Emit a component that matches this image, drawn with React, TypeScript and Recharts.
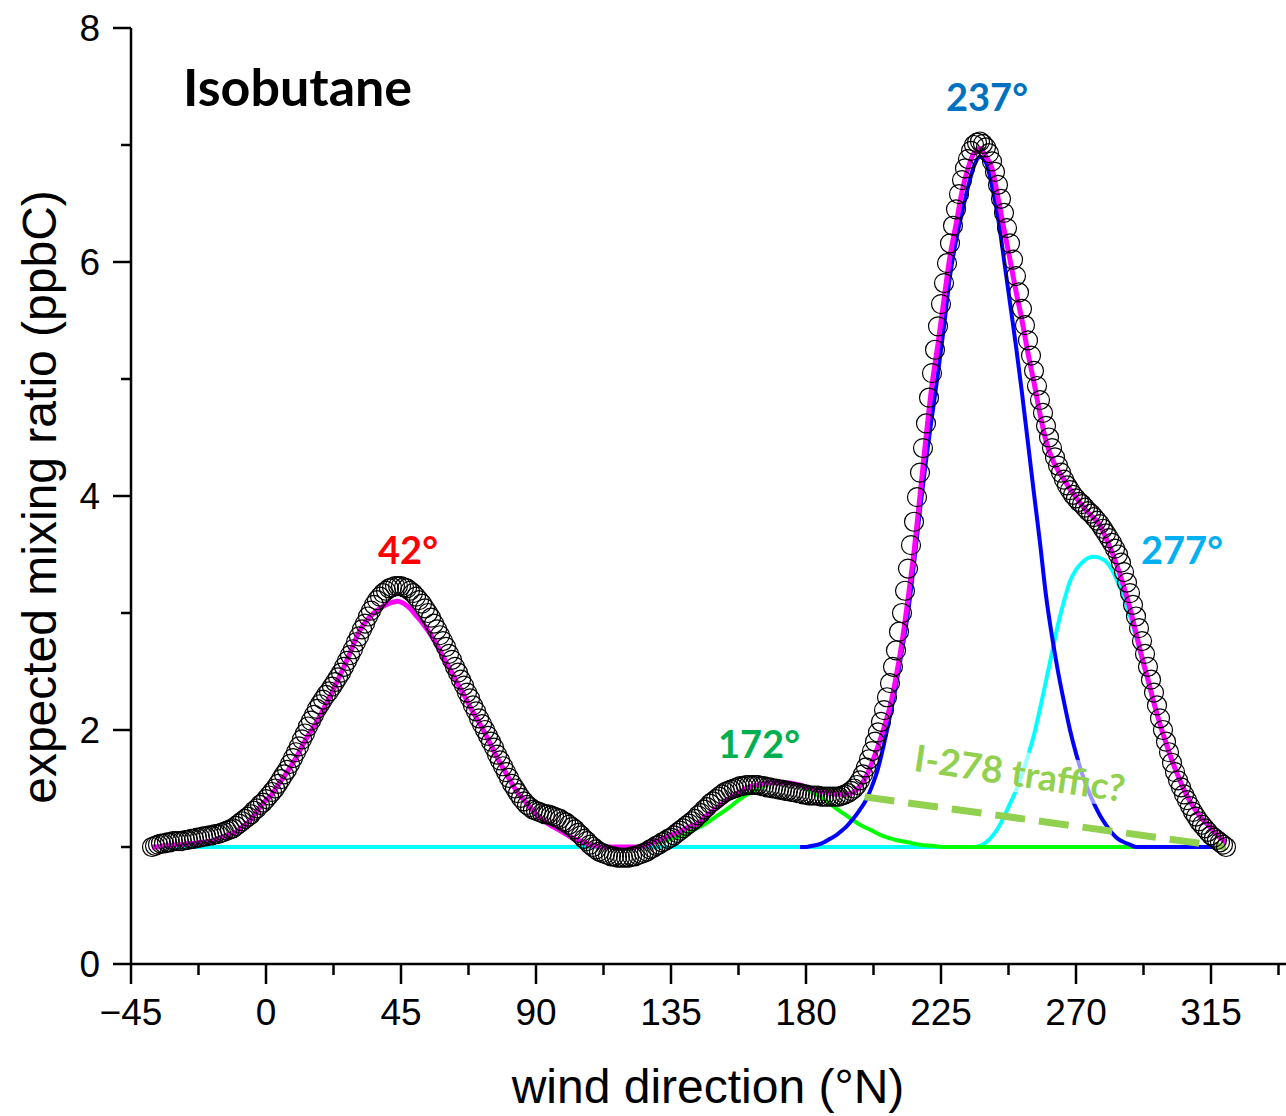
import { LineChart, Line, XAxis, YAxis } from 'recharts';

// wind direction of the observed points (°N)
const obsAngles = [
  -38, -37, -36, -35, -34, -33, -32, -31, -30, -29, -28, -27, -26, -25, -24, -23, -22, -21, -20, -19,
  -18, -17, -16, -15, -14, -13, -12, -11, -10, -9, -8, -7, -6, -5, -4, -3, -2, -1, 0, 1,
  2, 3, 4, 5, 6, 7, 8, 9, 10, 11, 12, 13, 14, 15, 16, 17, 18, 19, 20, 21,
  22, 23, 24, 25, 26, 27, 28, 29, 30, 31, 32, 33, 34, 35, 36, 37, 38, 39, 40, 41,
  42, 43, 44, 45, 46, 47, 48, 49, 50, 51, 52, 53, 54, 55, 56, 57, 58, 59, 60, 61,
  62, 63, 64, 65, 66, 67, 68, 69, 70, 71, 72, 73, 74, 75, 76, 77, 78, 79, 80, 81,
  82, 83, 84, 85, 86, 87, 88, 89, 90, 91, 92, 93, 94, 95, 96, 97, 98, 99, 100, 101,
  102, 103, 104, 105, 106, 107, 108, 109, 110, 111, 112, 113, 114, 115, 116, 117, 118, 119, 120, 121,
  122, 123, 124, 125, 126, 127, 128, 129, 130, 131, 132, 133, 134, 135, 136, 137, 138, 139, 140, 141,
  142, 143, 144, 145, 146, 147, 148, 149, 150, 151, 152, 153, 154, 155, 156, 157, 158, 159, 160, 161,
  162, 163, 164, 165, 166, 167, 168, 169, 170, 171, 172, 173, 174, 175, 176, 177, 178, 179, 180, 181,
  182, 183, 184, 185, 186, 187, 188, 189, 190, 191, 192, 193, 194, 195, 196, 197, 198, 199, 200, 201,
  202, 203, 204, 205, 206, 207, 208, 209, 210, 211, 212, 213, 214, 215, 216, 217, 218, 219, 220, 221,
  222, 223, 224, 225, 226, 227, 228, 229, 230, 231, 232, 233, 234, 235, 236, 237, 238, 239, 240, 241,
  242, 243, 244, 245, 246, 247, 248, 249, 250, 251, 252, 253, 254, 255, 256, 257, 258, 259, 260, 261,
  262, 263, 264, 265, 266, 267, 268, 269, 270, 271, 272, 273, 274, 275, 276, 277, 278, 279, 280, 281,
  282, 283, 284, 285, 286, 287, 288, 289, 290, 291, 292, 293, 294, 295, 296, 297, 298, 299, 300, 301,
  302, 303, 304, 305, 306, 307, 308, 309, 310, 311, 312, 313, 314, 315, 316, 317, 318, 319, 320,
];

// expected mixing ratio (ppbC), open circles
const observed = [
  1.0, 1.01, 1.02, 1.03, 1.03, 1.04, 1.04, 1.05, 1.05, 1.05, 1.05, 1.06, 1.06, 1.07, 1.07, 1.08, 1.08, 1.09, 1.09, 1.1,
  1.1, 1.11, 1.11, 1.12, 1.13, 1.14, 1.15, 1.16, 1.18, 1.2, 1.22, 1.24, 1.26, 1.28, 1.31, 1.33, 1.36, 1.38, 1.41, 1.44,
  1.47, 1.5, 1.54, 1.58, 1.62, 1.66, 1.71, 1.76, 1.81, 1.86, 1.92, 1.97, 2.03, 2.08, 2.13, 2.18, 2.22, 2.26, 2.3, 2.33,
  2.37, 2.41, 2.45, 2.49, 2.54, 2.59, 2.64, 2.69, 2.75, 2.8, 2.86, 2.91, 2.97, 3.02, 3.07, 3.11, 3.14, 3.17, 3.19, 3.21,
  3.22, 3.23, 3.23, 3.23, 3.22, 3.21, 3.19, 3.17, 3.14, 3.11, 3.08, 3.04, 3.0, 2.96, 2.91, 2.86, 2.81, 2.76, 2.71, 2.65,
  2.6, 2.54, 2.49, 2.43, 2.38, 2.32, 2.27, 2.21, 2.16, 2.1, 2.05, 2.0, 1.95, 1.9, 1.85, 1.79, 1.74, 1.69, 1.64, 1.59,
  1.54, 1.5, 1.46, 1.42, 1.39, 1.36, 1.34, 1.32, 1.31, 1.3, 1.29, 1.28, 1.28, 1.27, 1.26, 1.25, 1.24, 1.22, 1.21, 1.19,
  1.17, 1.15, 1.12, 1.1, 1.07, 1.05, 1.02, 1.0, 0.98, 0.96, 0.95, 0.94, 0.93, 0.92, 0.92, 0.91, 0.91, 0.91, 0.91, 0.91,
  0.92, 0.92, 0.93, 0.94, 0.95, 0.96, 0.98, 0.99, 1.01, 1.02, 1.04, 1.05, 1.07, 1.08, 1.1, 1.12, 1.14, 1.16, 1.18, 1.2,
  1.22, 1.24, 1.27, 1.29, 1.32, 1.34, 1.37, 1.39, 1.41, 1.43, 1.45, 1.47, 1.48, 1.49, 1.5, 1.51, 1.52, 1.52, 1.53, 1.53,
  1.53, 1.53, 1.53, 1.52, 1.52, 1.51, 1.51, 1.5, 1.5, 1.49, 1.49, 1.48, 1.48, 1.47, 1.47, 1.46, 1.46, 1.45, 1.45, 1.44,
  1.44, 1.44, 1.44, 1.43, 1.43, 1.43, 1.43, 1.43, 1.43, 1.43, 1.44, 1.45, 1.46, 1.48, 1.5, 1.53, 1.57, 1.62, 1.68, 1.75,
  1.82, 1.9, 1.98, 2.07, 2.17, 2.28, 2.4, 2.54, 2.68, 2.84, 3.0, 3.19, 3.38, 3.58, 3.78, 3.99, 4.2, 4.41, 4.62, 4.84,
  5.05, 5.25, 5.45, 5.64, 5.82, 5.99, 6.16, 6.31, 6.45, 6.58, 6.7, 6.8, 6.88, 6.95, 7.0, 7.02, 7.03, 7.01, 6.98, 6.93,
  6.86, 6.77, 6.66, 6.54, 6.42, 6.29, 6.16, 6.02, 5.88, 5.74, 5.6, 5.46, 5.33, 5.2, 5.07, 4.94, 4.82, 4.71, 4.6, 4.5,
  4.41, 4.33, 4.26, 4.2, 4.14, 4.09, 4.05, 4.01, 3.98, 3.95, 3.93, 3.9, 3.87, 3.85, 3.82, 3.79, 3.76, 3.72, 3.68, 3.64,
  3.6, 3.55, 3.5, 3.43, 3.35, 3.26, 3.17, 3.07, 2.97, 2.87, 2.76, 2.65, 2.54, 2.43, 2.32, 2.21, 2.1, 2.0, 1.9, 1.81,
  1.72, 1.64, 1.57, 1.51, 1.45, 1.4, 1.35, 1.3, 1.26, 1.22, 1.19, 1.16, 1.13, 1.1, 1.08, 1.06, 1.04, 1.02, 1.0,
];

// cumulative fit (magenta)
const fitAngles = [
  -38, -36, -34, -32, -30, -28, -26, -24, -22, -20, -18, -16, -14, -12, -10, -8, -6, -4, -2, 0,
  2, 4, 6, 8, 10, 12, 14, 16, 18, 20, 22, 24, 26, 28, 30, 32, 34, 36, 38, 40,
  42, 44, 46, 48, 50, 52, 54, 56, 58, 60, 62, 64, 66, 68, 70, 72, 74, 76, 78, 80,
  82, 84, 86, 88, 90, 92, 94, 96, 98, 100, 102, 104, 106, 108, 110, 112, 114, 116, 118, 120,
  122, 124, 126, 128, 130, 132, 134, 136, 138, 140, 142, 144, 146, 148, 150, 152, 154, 156, 158, 160,
  162, 164, 166, 168, 170, 172, 174, 176, 178, 180, 182, 184, 186, 188, 190, 192, 194, 196, 198, 200,
  202, 204, 206, 208, 210, 212, 214, 216, 218, 220, 222, 224, 226, 228, 230, 232, 234, 236, 238, 240,
  242, 244, 246, 248, 250, 252, 254, 256, 258, 260, 262, 264, 266, 268, 270, 272, 274, 276, 278, 280,
  282, 284, 286, 288, 290, 292, 294, 296, 298, 300, 302, 304, 306, 308, 310, 312, 314, 316, 318, 320,
];
const fitTotal = [
  1.0, 1.0, 1.01, 1.01, 1.02, 1.02, 1.03, 1.03, 1.04, 1.04, 1.05, 1.07, 1.09, 1.11, 1.13, 1.17, 1.21, 1.27, 1.34, 1.4,
  1.45, 1.53, 1.6, 1.68, 1.76, 1.86, 1.95, 2.03, 2.12, 2.22, 2.32, 2.43, 2.54, 2.66, 2.78, 2.88, 2.95, 3.0, 3.04, 3.07,
  3.09, 3.1, 3.08, 3.04, 2.98, 2.92, 2.85, 2.77, 2.68, 2.58, 2.49, 2.39, 2.3, 2.2, 2.11, 2.02, 1.92, 1.82, 1.72, 1.63,
  1.54, 1.46, 1.4, 1.34, 1.28, 1.24, 1.2, 1.17, 1.14, 1.11, 1.08, 1.06, 1.04, 1.02, 1.01, 1.0, 1.0, 1.0, 1.0, 1.0,
  1.0, 1.0, 1.01, 1.03, 1.05, 1.07, 1.09, 1.11, 1.13, 1.16, 1.18, 1.2, 1.25, 1.29, 1.33, 1.37, 1.41, 1.44, 1.47, 1.5,
  1.52, 1.53, 1.54, 1.55, 1.55, 1.55, 1.55, 1.54, 1.53, 1.51, 1.5, 1.48, 1.47, 1.46, 1.45, 1.45, 1.45, 1.47, 1.52, 1.6,
  1.72, 1.86, 2.02, 2.2, 2.45, 2.75, 3.12, 3.52, 4.0, 4.5, 4.95, 5.3, 5.68, 6.05, 6.32, 6.6, 6.8, 6.93, 6.97, 6.9,
  6.8, 6.55, 6.28, 6.02, 5.75, 5.5, 5.22, 4.97, 4.7, 4.47, 4.32, 4.22, 4.14, 4.06, 3.99, 3.92, 3.86, 3.81, 3.75, 3.64,
  3.52, 3.38, 3.22, 3.04, 2.83, 2.62, 2.43, 2.23, 2.05, 1.89, 1.74, 1.61, 1.49, 1.39, 1.31, 1.24, 1.19, 1.13, 1.08, 1.04,
];

// 172° component (green)
const greenAngles = [130, 134, 138, 142, 146, 150, 154, 158, 162, 166, 170, 174, 178, 182, 186, 190, 194, 198, 202, 206, 210, 214, 218, 222, 226, 300];
const greenValues = [1.04, 1.06, 1.09, 1.14, 1.19, 1.26, 1.33, 1.41, 1.47, 1.52, 1.55, 1.55, 1.52, 1.47, 1.41, 1.33, 1.26, 1.19, 1.14, 1.09, 1.06, 1.04, 1.02, 1.01, 1.0, 1.0];

// 237° component (blue)
const blueAngles = [
  178, 180, 182, 184, 186, 188, 190, 192, 194, 196, 198, 200, 202, 204, 206, 208, 210, 212, 214, 216,
  218, 220, 222, 224, 226, 228, 230, 232, 234, 236, 238, 240, 242, 244, 246, 248, 250, 252, 254, 256,
  258, 260, 262, 264, 266, 268, 270, 272, 274, 276, 278, 280, 282, 284, 286, 288, 290, 320,
];
const blueValues = [
  1.0, 1.0, 1.01, 1.02, 1.04, 1.07, 1.1, 1.14, 1.19, 1.25, 1.32, 1.4, 1.52, 1.67, 1.88, 2.12, 2.38, 2.68, 3.0, 3.42,
  3.88, 4.3, 4.68, 5.05, 5.45, 5.88, 6.18, 6.42, 6.64, 6.82, 6.9, 6.85, 6.65, 6.38, 6.02, 5.65, 5.28, 4.88, 4.45, 4.02,
  3.6, 3.15, 2.8, 2.5, 2.24, 2.0, 1.8, 1.63, 1.49, 1.37, 1.27, 1.19, 1.12, 1.07, 1.04, 1.02, 1.0, 1.0,
];

// 277° component (cyan)
const cyanAngles = [
  -38, 236, 238, 240, 242, 244, 246, 248, 250, 252, 254, 256, 258, 260, 262, 264, 266, 268, 270, 272,
  274, 276, 278, 280, 282, 284, 286, 288, 290, 292, 294, 296, 298, 300, 302, 304, 306, 308, 310, 312,
  314, 316, 318, 320,
];
const cyanValues = [
  1.0, 1.0, 1.01, 1.04, 1.09, 1.16, 1.26, 1.37, 1.48, 1.62, 1.78, 1.96, 2.18, 2.42, 2.66, 2.9, 3.1, 3.27, 3.37, 3.43,
  3.47, 3.48, 3.47, 3.44, 3.37, 3.26, 3.13, 2.97, 2.8, 2.6, 2.42, 2.22, 2.05, 1.88, 1.73, 1.6, 1.49, 1.39, 1.31, 1.24,
  1.18, 1.13, 1.08, 1.04,
];

// "I-278 traffic?" guide
const trafficAngles = [185, 320];
const trafficValues = [1.48, 1.0];

const xMajor = [-45, 0, 45, 90, 135, 180, 225, 270, 315];
const xTicks = [-45, -22.5, 0, 22.5, 45, 67.5, 90, 112.5, 135, 157.5, 180, 202.5, 225, 247.5, 270, 292.5, 315, 337.5];
const yTicks = [0, 1, 2, 3, 4, 5, 6, 7, 8];

const pts = (xs: number[], ys: number[]) => xs.map((x, i) => ({ x, y: ys[i] }));

const axisFont = '"Liberation Sans", Arial, sans-serif';
const noteFont = 'Lato, "Open Sans", sans-serif';

function XTick({ x, y, payload }: any) {
  const v = payload.value;
  const major = xMajor.includes(v);
  return (
    <g>
      <line x1={x} y1={y} x2={x} y2={y + (major ? 20 : 11)} stroke="#000" strokeWidth={2.5} />
      {major && (
        <text x={x} y={y + 61} textAnchor="middle" fontSize={37} fontFamily={axisFont} fill="#000">
          {v < 0 ? `\u2212${Math.abs(v)}` : v}
        </text>
      )}
    </g>
  );
}

function YTick({ x, y, payload }: any) {
  const v = payload.value;
  const major = v % 2 === 0;
  return (
    <g>
      <line x1={x} y1={y} x2={x - (major ? 18 : 10)} y2={y} stroke="#000" strokeWidth={2.5} />
      {major && (
        <text x={x - 31} y={y + 13} textAnchor="end" fontSize={37} fontFamily={axisFont} fill="#000">
          {v}
        </text>
      )}
    </g>
  );
}

function Note({ x, y, color, size, children, rotate = 0, bg }: any) {
  return (
    <div
      style={{
        position: 'absolute', left: x, top: y, transform: `translate(-50%, -50%) rotate(${rotate}deg)`,
        color, fontSize: size, fontWeight: 700, fontFamily: noteFont, lineHeight: 1,
        whiteSpace: 'nowrap', background: bg, padding: bg ? '2px 6px' : 0,
      }}
    >
      {children}
    </div>
  );
}

export default function App() {
  return (
    <div style={{ position: 'absolute', left: 0, top: 0, width: 1286, height: 1116, background: '#fff' }}>
      <LineChart width={1286} height={1116} margin={{ top: 28, right: 0, bottom: 0, left: 0 }}>
        <XAxis
          type="number" dataKey="x" domain={[-45, 340]} ticks={xTicks} height={152}
          allowDataOverflow interval={0} tickSize={0} tickMargin={0} tick={<XTick />}
          axisLine={{ stroke: '#000', strokeWidth: 2.5 }}
        />
        <YAxis
          type="number" dataKey="y" domain={[0, 8]} ticks={yTicks} width={131}
          interval={0} tickSize={0} tickMargin={0} tick={<YTick />}
          axisLine={{ stroke: '#000', strokeWidth: 2.5 }}
        />
        <Line
          data={pts(obsAngles, observed)} dataKey="y" stroke="none" isAnimationActive={false}
          dot={{ r: 9.5, stroke: '#000', strokeWidth: 1.2, fill: 'none' }} activeDot={false}
        />
        <Line data={pts(cyanAngles, cyanValues)} dataKey="y" type="monotone" stroke="#00ffff"
          strokeWidth={4} dot={false} isAnimationActive={false} />
        <Line data={pts(greenAngles, greenValues)} dataKey="y" type="monotone" stroke="#00ff00"
          strokeWidth={4} dot={false} isAnimationActive={false} />
        <Line data={pts(blueAngles, blueValues)} dataKey="y" type="monotone" stroke="#0000ff"
          strokeWidth={4} dot={false} isAnimationActive={false} />
        <Line data={pts(trafficAngles, trafficValues)} dataKey="y" type="linear" stroke="#92d050"
          strokeWidth={7} strokeDasharray="30 14" dot={false} isAnimationActive={false} />
        <Line data={pts(fitAngles, fitTotal)} dataKey="y" type="monotone" stroke="#ff00ff"
          strokeWidth={5} dot={false} isAnimationActive={false} />
      </LineChart>

      <div style={{ position: 'absolute', left: 183, top: 60, fontFamily: noteFont, fontWeight: 700, fontSize: 52, lineHeight: 1, color: '#000' }}>
        Isobutane
      </div>
      <Note x={408} y={549} color="#ff0000" size={38}>42°</Note>
      <Note x={987} y={96} color="#0070c0" size={38}>237°</Note>
      <Note x={1182} y={549} color="#00b0f0" size={38}>277°</Note>
      <Note x={759} y={743} color="#00b050" size={38}>172°</Note>
      <Note x={1020} y={772} color="#92d050" size={37} rotate={8.5} bg="rgba(255,255,255,0.6)">I-278 traffic?</Note>

      <div style={{
        position: 'absolute', left: 40, top: 497, transform: 'translate(-50%, -50%) rotate(-90deg)',
        fontFamily: axisFont, fontSize: 48, lineHeight: 1, whiteSpace: 'nowrap', color: '#000',
      }}>
        expected mixing ratio (ppbC)
      </div>
      <div style={{
        position: 'absolute', left: 708, top: 1087, transform: 'translate(-50%, -50%)',
        fontFamily: axisFont, fontSize: 48, lineHeight: 1, whiteSpace: 'nowrap', color: '#000',
      }}>
        wind direction (°N)
      </div>
    </div>
  );
}
